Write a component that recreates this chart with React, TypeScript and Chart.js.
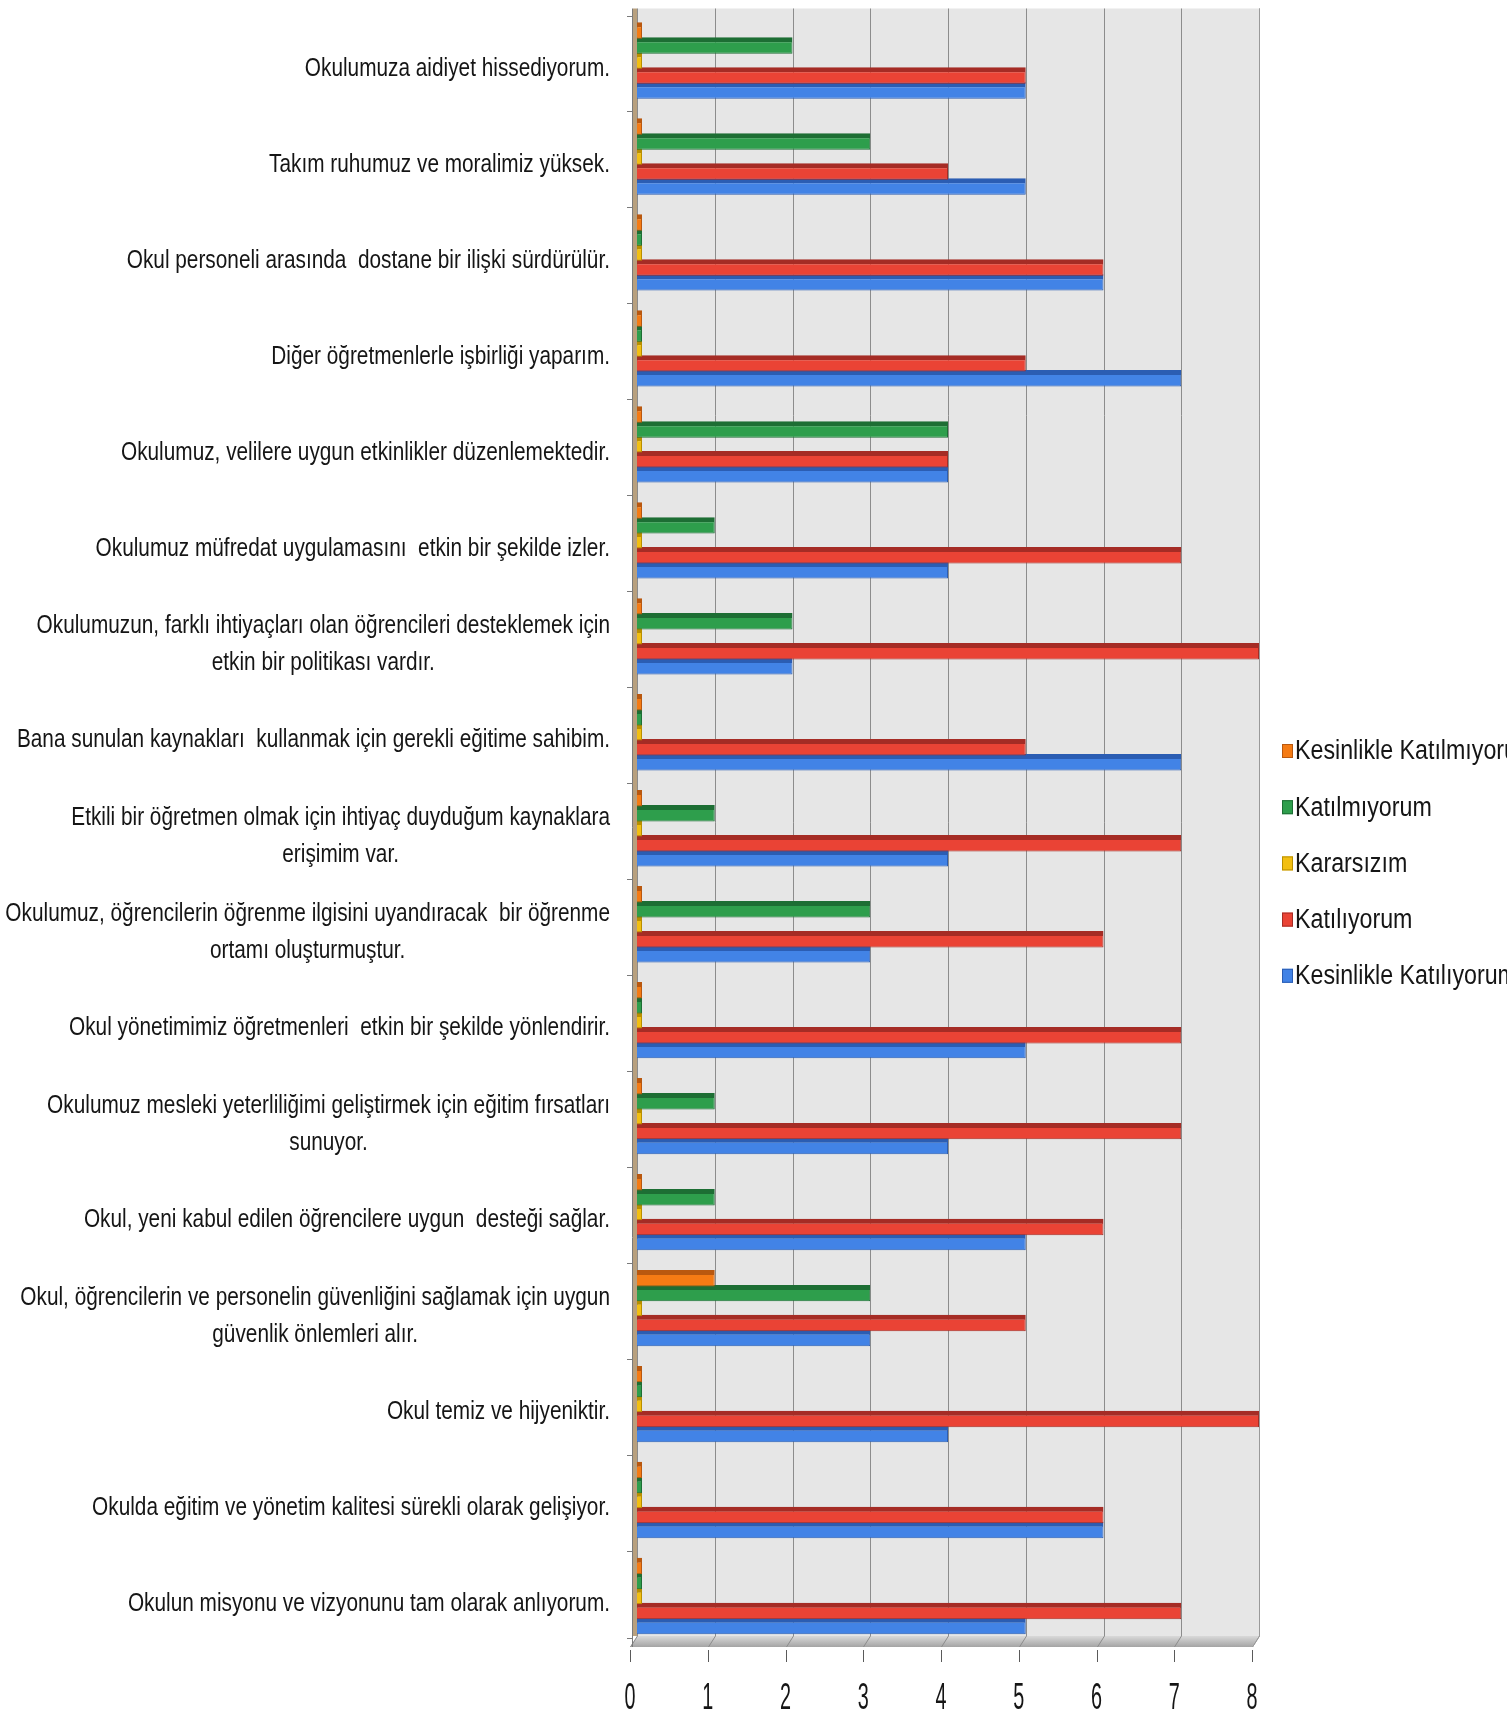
import { useEffect, useRef } from "react";
import { Chart, registerables } from "chart.js";

Chart.register(...registerables);

// ---------- data ----------
const categories: (string | string[])[] = [
  "Okulumuza aidiyet hissediyorum.",
  "Takım ruhumuz ve moralimiz yüksek.",
  "Okul personeli arasında  dostane bir ilişki sürdürülür.",
  "Diğer öğretmenlerle işbirliği yaparım.",
  "Okulumuz, velilere uygun etkinlikler düzenlemektedir.",
  "Okulumuz müfredat uygulamasını  etkin bir şekilde izler.",
  ["Okulumuzun, farklı ihtiyaçları olan öğrencileri desteklemek için", "etkin bir politikası vardır."],
  "Bana sunulan kaynakları  kullanmak için gerekli eğitime sahibim.",
  ["Etkili bir öğretmen olmak için ihtiyaç duyduğum kaynaklara", "erişimim var."],
  ["Okulumuz, öğrencilerin öğrenme ilgisini uyandıracak  bir öğrenme", "ortamı oluşturmuştur."],
  "Okul yönetimimiz öğretmenleri  etkin bir şekilde yönlendirir.",
  ["Okulumuz mesleki yeterliliğimi geliştirmek için eğitim fırsatları", "sunuyor."],
  "Okul, yeni kabul edilen öğrencilere uygun  desteği sağlar.",
  ["Okul, öğrencilerin ve personelin güvenliğini sağlamak için uygun", "güvenlik önlemleri alır."],
  "Okul temiz ve hijyeniktir.",
  "Okulda eğitim ve yönetim kalitesi sürekli olarak gelişiyor.",
  "Okulun misyonu ve vizyonunu tam olarak anlıyorum.",
];

const seriesNames = [
  "Kesinlikle Katılmıyorum",
  "Katılmıyorum",
  "Kararsızım",
  "Katılıyorum",
  "Kesinlikle Katılıyorum",
];

const kesinlikleKatilmiyorum = [0, 0, 0, 0, 0, 0, 0, 0, 0, 0, 0, 0, 0, 1, 0, 0, 0];
const katilmiyorum = [2, 3, 0, 0, 4, 1, 2, 0, 1, 3, 0, 1, 1, 3, 0, 0, 0];
const kararsizim = [0, 0, 0, 0, 0, 0, 0, 0, 0, 0, 0, 0, 0, 0, 0, 0, 0];
const katiliyorum = [5, 4, 6, 5, 4, 7, 8, 5, 7, 6, 7, 7, 6, 5, 8, 6, 7];
const kesinlikleKatiliyorum = [5, 5, 6, 7, 4, 4, 2, 7, 4, 3, 5, 4, 5, 3, 4, 6, 5];

const xTicks = [0, 1, 2, 3, 4, 5, 6, 7, 8];

// ---------- styles ----------
const fills = ["#f57b14", "#2e9e4c", "#f2bf12", "#ea4335", "#4283e6"];
const edges = ["#b9580f", "#1d6e34", "#b98f00", "#a52c25", "#2b5db3"];
const FONT = '"Liberation Sans", Arial, sans-serif';
const DEPTH = 7;

function drawSquished(ctx: CanvasRenderingContext2D, text: string, x: number, y: number, sx: number, align: CanvasTextAlign) {
  ctx.save();
  ctx.translate(x, y);
  ctx.scale(sx, 1);
  ctx.textAlign = align;
  ctx.textBaseline = "middle";
  ctx.fillText(text, 0, 0);
  ctx.restore();
}

const decor = {
  id: "decor",
  beforeDraw(chart: any) {
    const ctx = chart.ctx as CanvasRenderingContext2D;
    ctx.save();
    ctx.fillStyle = "#ffffff";
    ctx.fillRect(0, 0, chart.width, chart.height);
    ctx.restore();
  },
  beforeDatasetsDraw(chart: any) {
    const ctx = chart.ctx as CanvasRenderingContext2D;
    const a = chart.chartArea;
    const xs = chart.scales.x;
    const L = a.left, R = a.right;
    const T = a.top - 4;
    const Yb = a.bottom - 8;
    const Yf = a.bottom + 3;
    ctx.save();
    // back wall
    ctx.fillStyle = "#e6e6e6";
    ctx.fillRect(L, T, R - L, Yb - T);
    // floor
    const g = ctx.createLinearGradient(0, Yb, 0, Yf);
    g.addColorStop(0, "#d9d9d9");
    g.addColorStop(1, "#a4a4a4");
    ctx.fillStyle = g;
    ctx.beginPath();
    ctx.moveTo(L, Yb);
    ctx.lineTo(R, Yb);
    ctx.lineTo(R - DEPTH, Yf);
    ctx.lineTo(L - DEPTH, Yf);
    ctx.closePath();
    ctx.fill();
    // grid lines
    ctx.strokeStyle = "#8c8c8c";
    ctx.lineWidth = 1;
    for (const v of xTicks) {
      const px = Math.round(xs.getPixelForValue(v)) + 0.5;
      ctx.beginPath();
      ctx.moveTo(px, T);
      ctx.lineTo(px, Yb);
      ctx.lineTo(px - DEPTH, Yf);
      ctx.stroke();
    }
    // right wall edge
    ctx.strokeStyle = "#9a9a9a";
    ctx.beginPath();
    ctx.moveTo(R + 0.5, T);
    ctx.lineTo(R + 0.5, Yb);
    ctx.lineTo(R - DEPTH + 0.5, Yf);
    ctx.stroke();
    // left wall strip
    ctx.fillStyle = "#b8a07e";
    ctx.fillRect(L - 4, T, 4, Yb - T);
    // left axis line & category ticks
    ctx.strokeStyle = "#7a7a7a";
    ctx.beginPath();
    ctx.moveTo(L - 4.5, T);
    ctx.lineTo(L - 4.5, Yf);
    ctx.stroke();
    const n = categories.length;
    const step = (a.bottom - a.top) / n;
    for (let k = 0; k <= n; k++) {
      const y = Math.round(a.top + k * step + (k === n ? -6 : 3)) + 0.5;
      ctx.beginPath();
      ctx.moveTo(L - 10, y);
      ctx.lineTo(L - 4, y);
      ctx.stroke();
    }
    // x tick marks
    ctx.strokeStyle = "#5a5a5a";
    for (const v of xTicks) {
      const px = Math.round(xs.getPixelForValue(v) - DEPTH) + 0.5;
      ctx.beginPath();
      ctx.moveTo(px, Yf + 3);
      ctx.lineTo(px, Yf + 15);
      ctx.stroke();
    }
    ctx.restore();
  },
  afterDraw(chart: any) {
    const ctx = chart.ctx as CanvasRenderingContext2D;
    const a = chart.chartArea;
    const xs = chart.scales.x;
    const ys = chart.scales.y;
    ctx.save();
    ctx.fillStyle = "#151515";
    // category labels
    const sxL = 0.8;
    ctx.font = `26px ${FONT}`;
    const rightEdge = 610;
    const lineH = 37;
    categories.forEach((lbl, i) => {
      const lines = Array.isArray(lbl) ? lbl : [lbl];
      const widths = lines.map((l) => ctx.measureText(l).width * sxL);
      const maxW = Math.max(...widths);
      const cx = rightEdge - maxW / 2;
      const cy = ys.getPixelForValue(i) + 8;
      lines.forEach((l, j) => {
        const yy = cy + (j - (lines.length - 1) / 2) * lineH;
        drawSquished(ctx, l, cx, yy, sxL, "center");
      });
    });
    // x tick labels
    ctx.font = `36px ${FONT}`;
    for (const v of xTicks) {
      const px = xs.getPixelForValue(v) - DEPTH;
      drawSquished(ctx, String(v), px, a.bottom + 55, 0.55, "center");
    }
    // legend
    ctx.font = `27px ${FONT}`;
    const lx = a.right + 23;
    const ly0 = 751;
    const lstep = 56.2;
    seriesNames.forEach((name, i) => {
      const y = ly0 + i * lstep;
      ctx.fillStyle = fills[i];
      ctx.fillRect(lx, y - 7, 11, 14);
      ctx.strokeStyle = edges[i];
      ctx.lineWidth = 1;
      ctx.strokeRect(lx + 0.5, y - 6.5, 10, 13);
      ctx.fillStyle = "#151515";
      drawSquished(ctx, name, lx + 13, y + 1, 0.86, "left");
    });
    ctx.restore();
  },
};

export default function App() {
  const ref = useRef<HTMLCanvasElement>(null);
  useEffect(() => {
    document.body.style.margin = "0";
    const canvas = ref.current!;
    const seriesData = [kesinlikleKatilmiyorum, katilmiyorum, kararsizim, katiliyorum, kesinlikleKatiliyorum];
    const chart = new Chart(canvas, {
      type: "bar",
      data: {
        labels: categories as any,
        datasets: seriesNames.map((name, i) => ({
          label: name,
          data: seriesData[i],
          backgroundColor: fills[i],
          borderColor: edges[i],
          borderWidth: { top: 5, right: 1, bottom: 1, left: 0 },
          borderSkipped: "start",
          minBarLength: 5,
          categoryPercentage: 0.78,
          barPercentage: 1.1,
        })) as any,
      },
      options: {
        responsive: false,
        animation: false,
        indexAxis: "y",
        layout: { padding: { left: 637, right: 248, top: 12.5, bottom: 71 } },
        scales: {
          x: { type: "linear", min: 0, max: 8, display: false, ticks: { stepSize: 1 } },
          y: { type: "category", display: false },
        },
        plugins: { legend: { display: false }, tooltip: { enabled: false } },
      } as any,
      plugins: [decor as any],
    });
    return () => chart.destroy();
  }, []);
  return (
    <div style={{ width: 1507, height: 1715 }}>
      <canvas ref={ref} width={1507} height={1715} style={{ display: "block" }} />
    </div>
  );
}
